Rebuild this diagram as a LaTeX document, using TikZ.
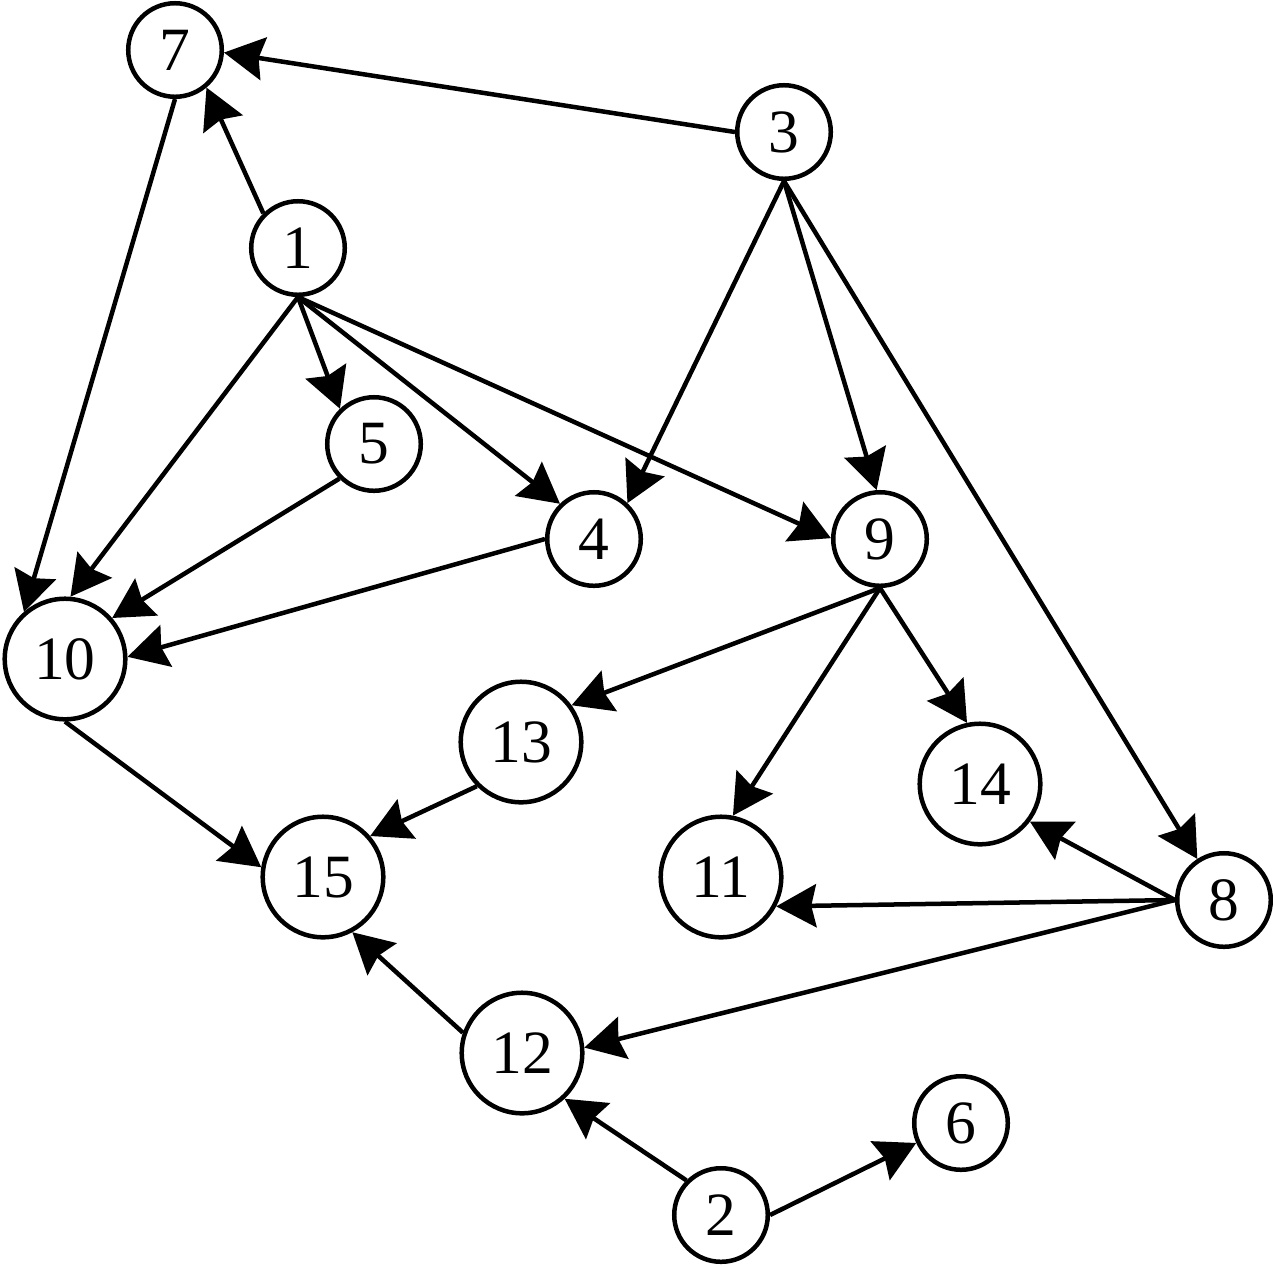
\documentclass[tikz,border=0pt]{standalone}
\usepackage{fontspec}
\setmainfont{Liberation Serif}
\usetikzlibrary{arrows.meta}
\tikzset{
  vsmall/.style={circle,draw,line width=0.045cm,inner sep=0pt,minimum size=0.935cm,font=\fontsize{17.5}{20}\selectfont},
  vlarge/.style={circle,draw,line width=0.045cm,inner sep=0pt,minimum size=1.205cm,font=\fontsize{17.5}{20}\selectfont},
  edge/.style={line width=0.045cm,-{Stealth[length=0.40cm,width=0.43cm,inset=0.05cm]}}
}
\begin{document}
\begin{tikzpicture}[x=0.01cm,y=-0.01cm]
\useasboundingbox (0,0) rectangle (1273,1266);
\node[vsmall] (n7) at (175,50) {7};
\node[vsmall] (n3) at (784,132) {3};
\node[vsmall] (n1) at (298,248) {1};
\node[vsmall] (n5) at (374,444) {5};
\node[vsmall] (n4) at (594,539) {4};
\node[vsmall] (n9) at (880,539) {9};
\node[vlarge] (n10) at (65,659) {10};
\node[vlarge] (n13) at (521,742) {13};
\node[vlarge] (n14) at (980,784) {14};
\node[vlarge] (n15) at (323,877) {15};
\node[vlarge] (n11) at (721,877) {11};
\node[vsmall] (n8) at (1224,900) {8};
\node[vlarge] (n12) at (522,1053) {12};
\node[vsmall] (n6) at (961,1123) {6};
\node[vsmall] (n2) at (721,1215) {2};

\draw[edge] (n3.180) -- (n7.-3);
\draw[edge] (n1.135) -- (n7.-50);
\draw[edge] (n7.270) -- (n10.131);
\draw[edge] (n1.270) -- (n10.85);
\draw[edge] (n1.270) -- (n5.134);
\draw[edge] (n1.270) -- (n4.134);
\draw[edge] (n1.270) -- (n9.179);
\draw[edge] (n3.270) -- (n4.47);
\draw[edge] (n3.270) -- (n9.94);
\draw[edge] (n3.270) -- (n8.123);
\draw[edge] (n5.225) -- (n10.41);
\draw[edge] (n4.180) -- (n10.2);
\draw[edge] (n9.270) -- (n13.36);
\draw[edge] (n9.270) -- (n11.79);
\draw[edge] (n9.270) -- (n14.102);
\draw[edge] (n10.270) -- (n15.171);
\draw[edge] (n13.225) -- (n15.41);
\draw[edge] (n12.161) -- (n15.-62);
\draw[edge] (n8.180) -- (n14.-37);
\draw[edge] (n8.180) -- (n11.-28);
\draw[edge] (n8.180) -- (n12.5);
\draw[edge] (n2.135) -- (n12.-47);
\draw[edge] (n2.0) -- (n6.204);
\end{tikzpicture}
\end{document}
